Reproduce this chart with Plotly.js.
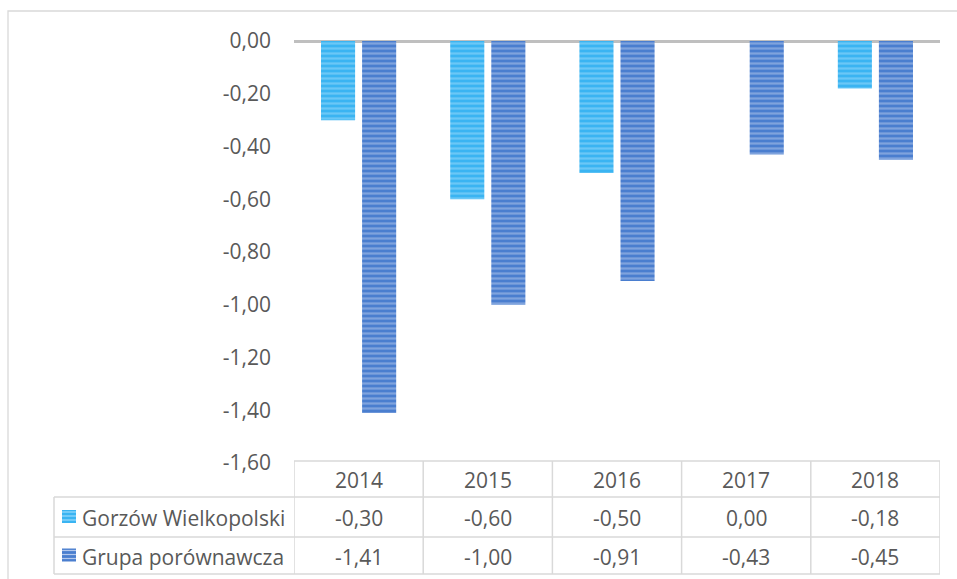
<!DOCTYPE html>
<html>
<head>
<meta charset="utf-8">
<script src="https://cdn.plot.ly/plotly-3.0.1.min.js"></script>
<style>html,body{margin:0;padding:0;background:#fff;}#chart{width:957px;height:579px;}</style>
</head>
<body>
<div id="chart"></div>
<script>
const years = ['2014', '2015', '2016', '2017', '2018'];
const seriesNames = ['Gorzów Wielkopolski', 'Grupa porównawcza'];
const gorzow = [-0.30, -0.60, -0.50, 0.00, -0.18];
const grupa = [-1.41, -1.00, -0.91, -0.43, -0.45];
const yTicks = [0, -0.2, -0.4, -0.6, -0.8, -1.0, -1.2, -1.4, -1.6];

const W = 957, H = 579;
const M = {l: 294, r: 17, t: 41, b: 116};
const pw = W - M.l - M.r, ph = H - M.t - M.b;
const px = x => (x - M.l) / pw;           // pixel x -> paper
const py = y => (H - M.b - y) / ph;       // pixel y -> paper

const txtColor = '#595959';
const lineColor = '#D9D9D9';
const fontFam = 'Open Sans, sans-serif';
const fs = 21;
const fmt = v => v.toFixed(2).replace('.', ',');

const colors = [
  {bg: '#3AB4F2', fg: '#9ADAFB'},
  {bg: '#4A7ECF', fg: '#B4C8EC'}
];

const traces = [gorzow, grupa].map((vals, k) => ({
  type: 'bar',
  name: seriesNames[k],
  x: years,
  y: vals,
  marker: {
    color: colors[k].bg,
    line: {width: 0},
    pattern: {shape: '-', fgcolor: colors[k].fg, bgcolor: colors[k].bg, size: 5, solidity: 0.45, fillmode: 'overlay'}
  },
  hoverinfo: 'skip'
}));

const shapes = [];
const annotations = [];
const L = (x0, y0, x1, y1) => shapes.push({type: 'line', xref: 'paper', yref: 'paper', x0, y0, x1, y1, line: {color: lineColor, width: 1.5}});

// outer chart frame
shapes.push({type: 'rect', xref: 'paper', yref: 'paper', x0: px(8), x1: px(975), y0: py(11), y1: py(600), line: {color: lineColor, width: 1.3}, fillcolor: 'rgba(0,0,0,0)'});

// table geometry (pixel rows)
const rowTop = 461, rowA = 497, rowB = 537, rowBot = 574, legLeft = 54;
const n = years.length;
shapes.push({type: 'line', xref: 'x', yref: 'paper', x0: -0.5, x1: n - 0.5, y0: py(rowTop), y1: py(rowTop), line: {color: lineColor, width: 1.5}});
[rowA, rowB, rowBot].forEach(r => L(px(legLeft), py(r), 1, py(r)));
for (let i = 0; i <= n; i++) {
  shapes.push({type: 'line', xref: 'x', yref: 'paper', x0: i - 0.5, x1: i - 0.5, y0: py(rowTop), y1: py(rowBot), line: {color: lineColor, width: 1.5}});
}
L(px(legLeft), py(rowA), px(legLeft), py(rowBot));

const ann = (xref, x, yPix, text, xanchor) => annotations.push({
  xref, yref: 'paper', x, y: py(yPix), text, showarrow: false,
  xanchor: xanchor || 'center', yanchor: 'middle',
  font: {family: fontFam, size: fs, color: txtColor}
});

years.forEach((yr, i) => ann('x', i, (rowTop + rowA) / 2 + 1, yr));
[gorzow, grupa].forEach((vals, k) => {
  const cy = k === 0 ? (rowA + rowB) / 2 : (rowB + rowBot) / 2;
  vals.forEach((v, i) => ann('x', i, cy + 1, fmt(v)));
  shapes.push({type: 'rect', xref: 'paper', yref: 'paper', x0: px(62), x1: px(76), y0: py(cy - 7), y1: py(cy + 6), line: {width: 0}, fillcolor: colors[k].bg});
  for (let s = 0; s < 3; s++) {
    const yy = cy - 5 + s * 4;
    shapes.push({type: 'line', xref: 'paper', yref: 'paper', x0: px(62), x1: px(76), y0: py(yy), y1: py(yy), line: {color: colors[k].fg, width: 1.2}});
  }
  ann('paper', px(80), cy + 1, seriesNames[k], 'left');
});

const layout = {
  width: W, height: H,
  margin: M,
  paper_bgcolor: '#fff', plot_bgcolor: '#fff',
  showlegend: false,
  barmode: 'group',
  bargap: 0.364,
  bargroupgap: 0.17,
  xaxis: {type: 'category', range: [-0.5, n - 0.5], showticklabels: false, showgrid: false, zeroline: false, showline: false, ticks: '', fixedrange: true},
  yaxis: {
    range: [-1.6, 0], tickmode: 'array', tickvals: yTicks, ticktext: yTicks.map(fmt),
    showgrid: false, zeroline: true, zerolinecolor: '#BFBFBF', zerolinewidth: 3,
    showline: false, ticks: '', ticklabelstandoff: 22,
    tickfont: {family: fontFam, size: fs, color: txtColor}, fixedrange: true
  },
  shapes, annotations,
  font: {family: fontFam, color: txtColor}
};

Plotly.newPlot('chart', traces, layout, {displayModeBar: false, staticPlot: true});
</script>
</body>
</html>
